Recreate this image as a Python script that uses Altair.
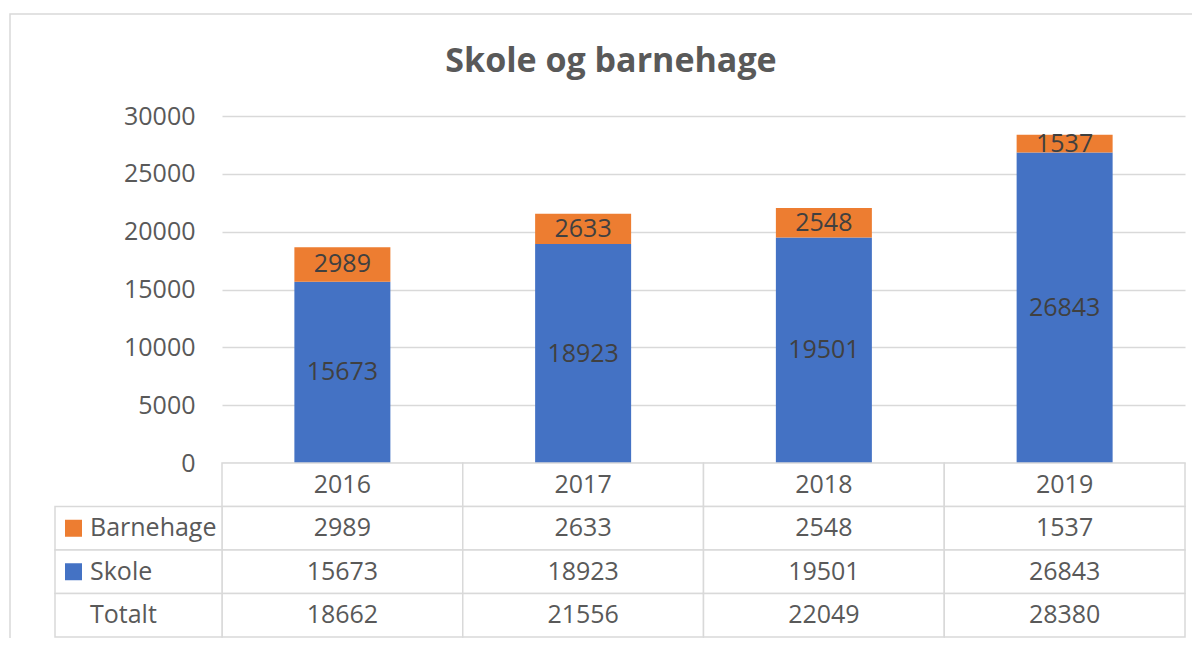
import altair as alt
import pandas as pd

# ---- data ----
years = ["2016", "2017", "2018", "2019"]
barnehage = [2989, 2633, 2548, 1537]
skole = [15673, 18923, 19501, 26843]
totalt = [18662, 21556, 22049, 28380]
series = ["Skole", "Barnehage"]
series_colors = ["#4472C4", "#ED7D31"]
y_ticks = [0, 5000, 10000, 15000, 20000, 25000, 30000]
table_rows = ["Barnehage", "Skole", "Totalt"]
title_text = "Skole og barnehage"

FONT = "Open Sans"
TXT = "#595959"
GRID = "#D9D9D9"
W, H = 963, 347

# ---- tables built from the arrays ----
bars_df = pd.DataFrame({
    "year": years * 2,
    "series": ["Skole"] * len(years) + ["Barnehage"] * len(years),
    "value": skole + barnehage,
    "ord": [0] * len(years) + [1] * len(years),
})

row_values = {"Barnehage": barnehage, "Skole": skole, "Totalt": totalt}
cells = []
for i, yr in enumerate(years):
    cells.append({"year": yr, "row": "head", "label": yr})
    for r in table_rows:
        cells.append({"year": yr, "row": r, "label": str(row_values[r][i])})
cells_df = pd.DataFrame(cells)
rows_df = pd.DataFrame({"row": table_rows})
swatch_df = pd.DataFrame({"row": ["Barnehage", "Skole"], "series": ["Barnehage", "Skole"]})
one = pd.DataFrame({"t": [title_text]})

# ---- encodings ----
x_band = alt.X("year:N", scale=alt.Scale(domain=years, paddingInner=0, paddingOuter=0), axis=None)
color = alt.Color("series:N", scale=alt.Scale(domain=series, range=series_colors), legend=None)
y_scale = alt.Scale(domain=[0, 30000], nice=False)
y_axis = alt.Axis(
    values=y_ticks, format="d", grid=True, gridColor=GRID, gridWidth=1.3, domain=False, ticks=False,
    labelFont=FONT, labelFontSize=25, labelColor=TXT, labelPadding=27, title=None,
)
y_table = alt.Y(
    "row:N",
    scale=alt.Scale(domain=["head"] + table_rows, range=[347, 521], paddingInner=0, paddingOuter=0),
    axis=None,
)

bars = alt.Chart(bars_df).mark_bar(size=96).encode(
    x=x_band,
    y=alt.Y("value:Q", stack="zero", scale=y_scale, axis=y_axis),
    color=color,
    order=alt.Order("ord:Q"),
)

bar_labels = (
    alt.Chart(bars_df)
    .transform_stack(stack="value", groupby=["year"], as_=["v0", "v1"],
                     sort=[alt.SortField("ord", order="ascending")])
    .transform_calculate(mid="(datum.v0 + datum.v1) / 2")
    .mark_text(font=FONT, fontSize=25, color="#404040", baseline="middle")
    .encode(x=x_band, y=alt.Y("mid:Q", scale=y_scale, axis=y_axis),
            text=alt.Text("value:Q", format="d"))
)

val_layer = alt.layer(bars, bar_labels)

year_cells = alt.Chart(cells_df).mark_rect(fill="white", stroke=GRID, strokeWidth=1.5).encode(
    x=x_band, y=y_table
)
label_cells = alt.Chart(rows_df).mark_rect(fill="white", stroke=GRID, strokeWidth=1.5).encode(
    x=alt.value(-167), x2=alt.value(0), y=y_table
)
cell_text = alt.Chart(cells_df).mark_text(font=FONT, fontSize=25, color=TXT, baseline="middle").encode(
    x=x_band, y=y_table, text="label:N"
)
row_text = alt.Chart(rows_df).mark_text(font=FONT, fontSize=25, color=TXT, baseline="middle", align="left").encode(
    x=alt.value(-132), y=y_table, text="row:N"
)
swatches = alt.Chart(swatch_df).mark_square(size=289, opacity=1).encode(
    x=alt.value(-148.5), y=y_table, color=color
)
table_layer = alt.layer(year_cells, label_cells, cell_text, row_text, swatches)

frame = alt.Chart(one).mark_rect(fillOpacity=0, stroke=GRID, strokeWidth=1.5).encode(
    x=alt.value(-212), x2=alt.value(1100), y=alt.value(-102), y2=alt.value(700)
)
title = alt.Chart(one).mark_text(
    font=FONT, fontSize=34, fontWeight="bold", color=TXT, align="center", baseline="alphabetic"
).encode(x=alt.value(389), y=alt.value(-44), text="t:N")

chart = (
    alt.layer(frame, val_layer, table_layer, title)
    .resolve_scale(y="independent")
    .properties(
        width=W, height=H,
        autosize=alt.AutoSizeParams(type="none"),
        padding={"left": 214, "top": 108, "right": 7, "bottom": 175},
    )
    .configure_view(stroke=None)
)

chart.save("out.html", embed_options={"renderer": "svg", "actions": False})
